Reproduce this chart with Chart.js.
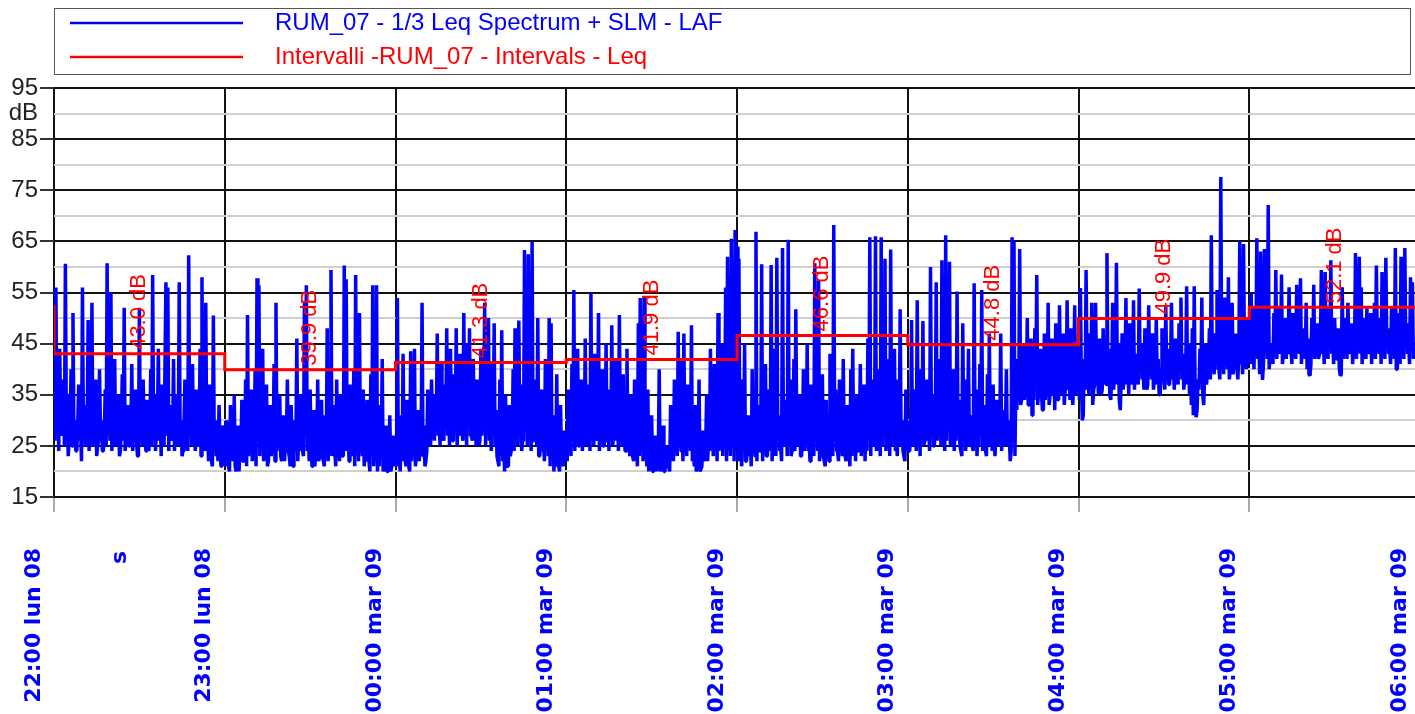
<!DOCTYPE html>
<html>
<head>
<meta charset="utf-8">
<script src="https://cdn.jsdelivr.net/npm/chart.js@4.4.1/dist/chart.umd.min.js"></script>
<style>
  html, body { margin: 0; padding: 0; background: #fff; overflow: hidden; }
  canvas { display: block; }
</style>
</head>
<body>
<canvas id="leqChart" width="1420" height="714"></canvas>
<script>
// Time axis (minutes from 22:00), one label per hour
const hourLabels = ['22:00 lun 08', '23:00 lun 08', '00:00 mar 09', '01:00 mar 09', '02:00 mar 09',
  '03:00 mar 09', '04:00 mar 09', '05:00 mar 09', '06:00 mar 09'];

// LAF samples, one every 40 s, one array per hour
const laf22 = [33, 56, 36, 44, 28, 38, 60.6, 35, 27, 40, 51, 30, 24, 37, 29, 56, 33, 26,
  49.6, 31, 53, 28, 38, 25, 40, 30, 24, 36, 60.7, 34, 55, 29, 42, 26, 35, 24,
  39, 52, 27, 33, 25, 41, 29, 36, 23, 52, 30, 38, 26, 34, 24, 40, 58.4, 35,
  28, 44, 31, 37, 25, 57, 56, 33, 27, 42, 29, 35, 57, 30, 24, 38, 27, 62.3,
  34, 41, 28, 36, 25, 44, 58, 31, 53, 27, 37, 22, 50.5, 30, 24, 33, 21, 29];
const laf23 = [22, 30, 21, 33, 24, 35, 20, 29, 23, 34, 22, 38, 50.6, 26, 36, 24, 40, 57.8,
  56.4, 30, 44, 25, 37, 22, 33, 27, 41, 53, 29, 35, 22, 31, 26, 38, 23, 33,
  21, 30, 46, 27, 35, 24, 53, 56.4, 29, 36, 21, 32, 25, 38, 23, 34, 22, 31,
  48, 28, 59.4, 33, 24, 38, 26, 35, 23, 60.3, 57.6, 30, 37, 25, 40, 58.4, 31, 51,
  27, 36, 24, 34, 22, 39, 56.4, 28, 56.4, 25, 33, 42, 21, 29, 20, 31, 21, 27];
const laf00 = [27, 53.9, 22, 31, 43, 24, 34, 21, 43.5, 28, 44, 23, 32, 25, 53, 29, 22, 36,
  26, 38, 29, 35, 47, 30, 41, 27, 37, 48, 32, 44, 26, 39, 48, 31, 43, 28,
  51, 34, 45, 48, 27, 42, 30, 38, 25, 44, 33, 53, 36, 50, 28, 41, 49, 32,
  22, 38, 47.6, 26, 35, 21, 33, 24, 40, 48, 29, 49.5, 37, 26, 63.3, 42, 62.5, 33,
  64.9, 38, 28, 50, 23, 36, 26, 42, 30, 50, 49, 31, 24, 39, 21, 33, 22, 28];
const laf01 = [23, 36, 28, 41, 55.5, 30, 44, 25, 38, 29, 46, 26, 37, 54.9, 32, 43, 27, 51,
  30, 40, 25, 45, 31, 36, 48.6, 28, 42, 33, 50.6, 27, 39, 24, 44, 30, 35, 23,
  38, 27, 49, 53.9, 30, 54.2, 26, 36, 22, 31, 20, 27, 22, 40, 21, 29, 20, 25,
  21, 33, 24, 38, 28, 47.3, 30, 42, 47, 26, 37, 29, 48.6, 24, 33, 21, 38, 20,
  28, 22, 35, 26, 44, 30, 41, 33, 51, 27, 45, 36, 56, 62, 38, 65.5, 40, 67.2];
const laf02 = [64, 61.6, 24, 38, 45, 22, 31, 26, 40, 28, 66.9, 33, 24, 60.5, 30, 41, 23, 36,
  60.4, 27, 44, 61.8, 31, 25, 63.7, 34, 29, 65.3, 38, 24, 42, 51.7, 27, 35, 23, 40,
  30, 45, 26, 37, 28, 60.7, 33, 57.4, 25, 39, 22, 34, 27, 43, 30, 68.2, 36, 24,
  38, 28, 42, 23, 33, 26, 40, 44, 29, 35, 24, 41, 27, 37, 31, 46, 65.8, 38,
  26, 66, 40, 30, 65.8, 34, 61.6, 28, 42, 63.4, 31, 44, 26, 38, 51.7, 30, 23, 36];
const laf03 = [30, 24, 49.6, 36, 27, 53.5, 33, 40, 49.4, 26, 38, 29, 60, 35, 25, 57, 31, 42,
  61.3, 28, 66.2, 37, 61, 26, 40, 30, 55.2, 34, 24, 49, 38, 27, 44, 31, 25, 56.8,
  36, 28, 41, 55.5, 33, 24, 39, 47, 29, 37, 23, 34, 28, 47, 32, 25, 40, 30,
  22, 65.8, 65, 38, 42, 63.5, 34, 45, 37, 50, 33, 46, 38, 48, 58.4, 36, 44, 32,
  47, 39, 53, 35, 46, 40, 49, 34, 52.5, 38, 47, 36, 53.5, 42, 48, 33, 52.5, 41];
const laf04 = [45, 55.9, 30, 42, 59.4, 38, 47, 53, 36, 53, 40, 46, 35, 48, 38, 62.7, 44, 34,
  53, 39, 60.8, 45, 32, 47, 38, 53.9, 42, 49, 37, 53.5, 43, 38, 55.8, 45, 40, 48,
  36, 52.5, 43, 47, 38, 50, 42, 35, 48, 40, 52.5, 44, 37, 53, 41, 46, 39, 49,
  54, 43, 38, 56.2, 45, 40, 48, 56.2, 30.6, 38, 44, 54, 33, 45, 40, 48, 66.2, 42,
  47, 55.5, 40, 77.6, 44, 54, 46, 58, 40, 53, 43, 47, 38, 65, 45, 64.5, 42, 50];
const laf05 = [47, 54.9, 44, 52, 65.6, 46, 63, 37.9, 63.5, 48, 72.1, 44, 45, 51, 59.4, 46, 52, 58.5,
  43, 50, 46, 56, 44, 51, 47, 56.5, 45, 57.8, 48, 44, 53, 46, 38.7, 50, 56.5, 45,
  49, 43, 59.4, 47, 59, 44, 52, 61.3, 46, 50, 42, 48, 38.7, 56, 45, 50, 53, 44,
  49, 46, 62.7, 48, 62, 56, 45, 50, 52, 44, 51, 47, 53, 60.3, 46, 50, 59, 45,
  61.8, 48, 44, 52, 47, 63.7, 40, 51, 62, 46, 63.7, 49, 45, 58, 57];

// Background floor read 20 s after each sample above
const floor22 = [26, 29, 24, 31, 27, 25, 30, 23, 28, 25, 27, 24, 29, 26, 22, 28, 25, 30,
  24, 27, 25, 29, 23, 26, 28, 24, 27, 25, 30, 26, 24, 28, 25, 27, 23, 29,
  26, 24, 28, 25, 27, 24, 30, 26, 23, 27, 25, 29, 24, 26, 28, 25, 27, 24,
  29, 26, 23, 28, 25, 27, 24, 30, 26, 24, 28, 25, 27, 23, 29, 26, 24, 28,
  25, 27, 24, 29, 26, 23, 27, 24, 25, 22, 26, 21, 24, 23, 22, 25, 21, 23];
const floor23 = [21, 23, 20, 24, 22, 21, 25, 20, 23, 22, 24, 21, 23, 25, 22, 24, 21, 26,
  23, 25, 22, 24, 21, 26, 23, 25, 22, 24, 27, 23, 25, 22, 26, 24, 21, 25,
  23, 26, 22, 24, 25, 23, 27, 24, 22, 25, 23, 21, 24, 22, 25, 23, 21, 24,
  22, 25, 23, 26, 21, 24, 22, 25, 23, 24, 26, 22, 25, 23, 21, 24, 22, 25,
  23, 21, 24, 22, 20, 23, 21, 22, 20, 21, 23, 20, 22, 20, 21, 20, 22, 21];
const floor00 = [21, 23, 20, 22, 24, 21, 23, 20, 22, 24, 21, 23, 22, 25, 23, 21, 24, 26,
  25, 28, 26, 29, 27, 25, 28, 26, 30, 27, 25, 29, 26, 28, 25, 27, 29, 26,
  28, 25, 30, 27, 26, 29, 25, 28, 26, 27, 29, 25, 28, 26, 24, 27, 25, 23,
  21, 23, 22, 20, 24, 21, 23, 25, 24, 27, 25, 28, 24, 26, 28, 25, 27, 24,
  26, 28, 25, 23, 26, 24, 22, 25, 23, 21, 23, 20, 22, 21, 20, 22, 21, 23];
const floor01 = [22, 25, 23, 26, 24, 27, 25, 28, 24, 26, 25, 28, 24, 27, 25, 26, 28, 24,
  27, 25, 28, 26, 24, 27, 25, 28, 26, 24, 27, 25, 28, 24, 26, 23, 25, 22,
  24, 21, 23, 25, 22, 24, 21, 20, 22, 20, 21, 20, 22, 20, 21, 20, 22, 21,
  20, 23, 22, 25, 23, 26, 24, 22, 25, 23, 26, 24, 22, 21, 20, 22, 20, 21,
  23, 25, 22, 24, 26, 23, 25, 22, 24, 26, 23, 25, 22, 24, 23, 25, 22, 24];
const floor02 = [22, 25, 21, 24, 22, 26, 23, 21, 25, 23, 22, 26, 24, 22, 25, 23, 27, 24,
  22, 25, 23, 26, 24, 22, 25, 27, 23, 25, 23, 26, 24, 28, 25, 23, 26, 24,
  27, 24, 22, 25, 23, 26, 24, 22, 25, 23, 21, 24, 22, 25, 23, 26, 24, 22,
  25, 23, 26, 22, 24, 21, 23, 25, 22, 24, 26, 23, 25, 22, 24, 26, 23, 25,
  27, 24, 26, 23, 25, 27, 24, 26, 23, 25, 27, 24, 23, 25, 26, 24, 22, 24];
const floor03 = [24, 27, 25, 28, 24, 26, 23, 27, 25, 28, 26, 24, 27, 25, 28, 26, 29, 25,
  27, 24, 26, 28, 25, 27, 24, 26, 28, 25, 23, 26, 24, 27, 25, 28, 24, 26,
  23, 25, 27, 24, 26, 23, 25, 27, 24, 26, 23, 25, 28, 24, 26, 29, 25, 27,
  24, 26, 23, 32, 35, 33, 37, 34, 36, 33, 35, 31, 34, 36, 33, 37, 35, 32,
  34, 36, 33, 37, 35, 32, 36, 34, 37, 35, 33, 36, 38, 34, 36, 39, 35, 37];
const floor04 = [34, 38, 31, 36, 40, 35, 38, 33, 37, 39, 35, 38, 36, 40, 37, 39, 35, 38,
  36, 40, 37, 34, 38, 36, 39, 37, 35, 38, 40, 36, 39, 37, 40, 38, 36, 39,
  37, 40, 38, 36, 39, 37, 35, 38, 40, 36, 39, 37, 40, 38, 36, 39, 37, 40,
  38, 36, 39, 37, 35, 33, 31, 34, 32, 36, 38, 35, 39, 37, 40, 38, 41, 39,
  42, 40, 38, 41, 39, 42, 40, 38, 41, 39, 42, 40, 43, 41, 39, 42, 40, 43];
const floor05 = [41, 43, 40, 44, 42, 39, 43, 41, 44, 42, 40, 43, 41, 44, 42, 45, 43, 41,
  44, 42, 45, 43, 41, 44, 42, 45, 43, 41, 44, 42, 40, 39, 41, 43, 42, 44,
  42, 45, 43, 41, 44, 42, 45, 43, 41, 44, 42, 40, 39, 42, 44, 42, 45, 43,
  41, 44, 42, 45, 43, 41, 44, 42, 45, 43, 41, 44, 42, 45, 43, 41, 44, 42,
  45, 43, 41, 44, 42, 40, 43, 41, 44, 42, 45, 43, 41, 44, 42];

const lafHours = [laf22, laf23, laf00, laf01, laf02, laf03, laf04, laf05];
const floorHours = [floor22, floor23, floor00, floor01, floor02, floor03, floor04, floor05];
const sampleMinutes = 40 / 60;

// Interval Leq (one value per hour)
const intervalStart = [0, 60, 120, 180, 240, 300, 360, 420];
const intervalLeq = [43.0, 39.9, 41.3, 41.9, 46.6, 44.8, 49.9, 52.1];
const firstLeq = 52.5;

const lafPoints = [];
lafHours.forEach((arr, h) => {
  arr.forEach((v, i) => {
    const t = h * 60 + i * sampleMinutes;
    lafPoints.push({ x: t, y: v });
    lafPoints.push({ x: t + sampleMinutes / 2, y: floorHours[h][i] });
  });
});
const leqPoints = [{ x: 0, y: firstLeq }];
intervalStart.forEach((s, i) => leqPoints.push({ x: s, y: intervalLeq[i] }));
leqPoints.push({ x: 480, y: intervalLeq[intervalLeq.length - 1] });

const isMajor = (v) => (v - 15) % 10 === 0;

// Legend box + the "s" unit on the time axis
const legendBox = {
  id: 'legendBox',
  afterDraw(chart) {
    const ctx = chart.ctx;
    ctx.save();
    ctx.strokeStyle = '#555';
    ctx.lineWidth = 1;
    ctx.strokeRect(54.5, 8.5, 1356, 66);
    ctx.font = '24px "Liberation Sans", Arial, sans-serif';
    ctx.textBaseline = 'middle';
    chart.data.datasets.forEach((ds, i) => {
      const y = 23 + i * 34;
      ctx.strokeStyle = ds.borderColor;
      ctx.lineWidth = 2.5;
      ctx.beginPath();
      ctx.moveTo(70, y);
      ctx.lineTo(243, y);
      ctx.stroke();
      ctx.fillStyle = ds.borderColor;
      ctx.fillText(ds.label, 275, y);
    });
    ctx.font = 'bold 22px "DejaVu Sans", sans-serif';
    ctx.fillStyle = '#0000ff';
    ctx.translate(120, 551);
    ctx.rotate(-Math.PI / 2);
    ctx.textAlign = 'right';
    ctx.fillText('s', 0, 0);
    ctx.restore();
  }
};

// Rotated "xx.x dB" label above each interval step
const intervalLabels = {
  id: 'intervalLabels',
  afterDatasetsDraw(chart) {
    const { ctx, scales: { x, y } } = chart;
    ctx.save();
    ctx.font = '22px "Liberation Sans", Arial, sans-serif';
    ctx.fillStyle = '#ff0000';
    ctx.textBaseline = 'middle';
    ctx.textAlign = 'left';
    intervalLeq.forEach((v, i) => {
      const px = x.getPixelForValue(intervalStart[i] + 30);
      const py = y.getPixelForValue(v) - 4;
      ctx.save();
      ctx.translate(px, py);
      ctx.rotate(-Math.PI / 2);
      ctx.fillText(v.toFixed(1) + ' dB', 0, 0);
      ctx.restore();
    });
    ctx.restore();
  }
};

new Chart(document.getElementById('leqChart'), {
  type: 'line',
  data: {
    datasets: [{
      label: 'RUM_07 - 1/3 Leq Spectrum + SLM - LAF',
      data: lafPoints,
      borderColor: '#0000ff',
      borderWidth: 3.5,
      borderJoinStyle: 'bevel',
      pointRadius: 0,
      tension: 0,
      order: 1
    }, {
      label: 'Intervalli -RUM_07 - Intervals - Leq',
      data: leqPoints,
      borderColor: '#ff0000',
      borderWidth: 3,
      stepped: 'before',
      pointRadius: 0,
      order: 0
    }]
  },
  options: {
    responsive: false,
    animation: false,
    layout: { padding: { top: 88, left: 0, right: 0, bottom: 0 } },
    plugins: {
      legend: { display: false },
      tooltip: { enabled: false }
    },
    scales: {
      x: {
        type: 'linear',
        min: 0,
        max: 480,
        afterFit(s) { s.height = 217; s.paddingLeft = 0; s.paddingRight = 0; },
        afterBuildTicks(s) { s.ticks = hourLabels.map((_, i) => ({ value: i * 60 })); },
        ticks: {
          autoSkip: false,
          minRotation: 90,
          maxRotation: 90,
          padding: 36,
          labelOffset: -20,
          color: '#0000ff',
          font: { family: '"DejaVu Sans", sans-serif', size: 22, weight: 'bold' },
          callback: (v, i) => hourLabels[i]
        },
        grid: { color: '#111', lineWidth: 2, tickLength: 15, tickColor: '#555', tickWidth: 1 },
        border: { display: false }
      },
      y: {
        min: 15,
        max: 95,
        afterFit(s) { s.width = 54; s.paddingTop = 0; s.paddingBottom = 0; },
        ticks: {
          stepSize: 5,
          autoSkip: false,
          padding: 2,
          color: '#222',
          font: { family: '"Liberation Sans", Arial, sans-serif', size: 24 },
          callback: (v) => isMajor(v) ? String(v) : (v === 90 ? 'dB' : '')
        },
        grid: {
          color: (c) => isMajor(c.tick.value) ? '#111' : '#cfcfcf',
          lineWidth: 2,
          tickLength: 14,
          tickColor: (c) => isMajor(c.tick.value) ? '#333' : 'rgba(0,0,0,0)'
        },
        border: { display: false }
      }
    }
  },
  plugins: [legendBox, intervalLabels]
});
</script>
</body>
</html>
